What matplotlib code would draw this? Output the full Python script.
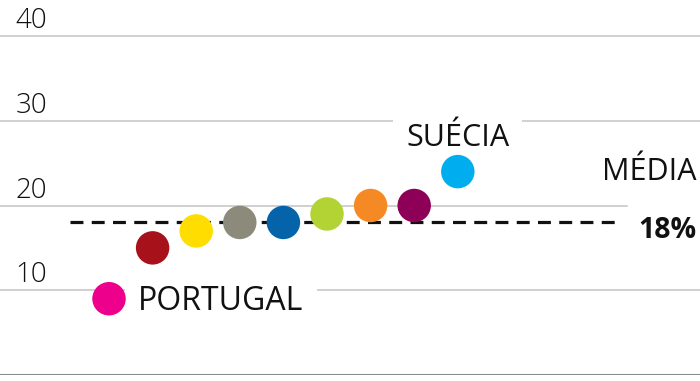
import matplotlib
matplotlib.use("Agg")
import matplotlib.pyplot as plt
import matplotlib.transforms as mtransforms

plt.rcParams['font.family'] = ['Open Sans', 'DejaVu Sans']
plt.rcParams['lines.scale_dashes'] = False

# Data
countries = ["PORTUGAL", "", "", "", "", "", "", "", "SUÉCIA"]
values = [9, 15, 17, 18, 18, 19, 20, 20, 24]
colors = ["#EC008C", "#A6111A", "#FFDD00", "#8C8B7B", "#0563A9",
          "#B3D335", "#F58A25", "#8E0057", "#00AEEF"]
mean_value = 18
mean_label = "18%"
mean_title = "MÉDIA"
yticks = [10, 20, 30, 40]

W, H, DPI = 700, 381, 100
fig = plt.figure(figsize=(W / DPI, H / DPI), dpi=DPI)
ppu = 8.475  # px per unit
ax = fig.add_axes([0, 6 / H, 1, 375 / H])
ax.set_ylim(0, 375 / ppu)
step = 43.6
x0 = 109
ax.set_xlim(-x0 / step, (W - x0) / step)
ax.axis('off')

def px2x(px):
    return (px - x0) / step

# gridlines
for t in yticks:
    xmax = 627 / W if t == 20 else 1
    ax.axhline(t, xmin=0, xmax=xmax, color="#c4c4c4", lw=1.1, zorder=1)
ax.axhline(0, color="#8a8a8a", lw=2.2, zorder=1)

# tick labels
off = mtransforms.offset_copy(ax.get_yaxis_transform(), fig=fig, x=0, y=8 * 72 / DPI, units='points')
for t in yticks:
    ax.text(47 / W, t, str(t), transform=off, ha='right', va='baseline',
            fontsize=20, color="#111111", fontweight='light')

# mean dashed line
ax.hlines(mean_value, px2x(70), px2x(620), colors="#111111", lw=2.3,
          linestyles=(0, (9.3, 6.0)), zorder=2)

# dots
xs = list(range(len(values)))
ax.scatter(xs, values, s=580, c=colors, edgecolors='none', zorder=3)

# labels
fs = 23
bbox = dict(boxstyle='square,pad=0.42', facecolor='white', edgecolor='none')
ax.text(px2x(138), values[0] - 0.35, countries[0], ha='left', va='center', fontsize=fs,
        color="#111111", bbox=bbox, zorder=2)
ax.text(xs[-1], values[-1] + 4.0, countries[-1], ha='center', va='center', fontsize=22,
        color="#111111", bbox=bbox, zorder=2)
ax.text(px2x(697), 24.0, mean_title, ha='right', va='center', fontsize=22, color="#111111")
ax.text(px2x(696), mean_value - 0.9, mean_label, ha='right', va='center', fontsize=20.5,
        color="#111111", fontweight='bold')

fig.savefig("out.png", dpi=DPI)
